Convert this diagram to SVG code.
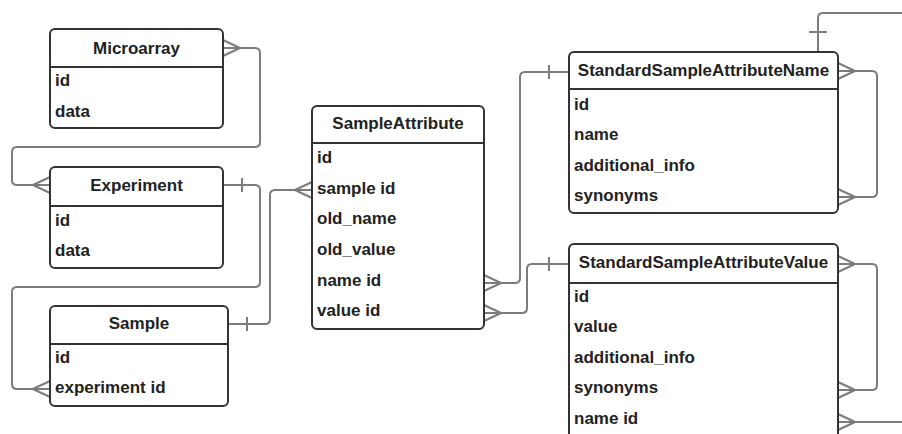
<svg xmlns="http://www.w3.org/2000/svg" xmlns:xlink="http://www.w3.org/1999/xlink" width="902" height="434" viewBox="0 0 902 434">
<style>
.box{fill:#fff;stroke:#333;stroke-width:2}
.div{stroke:#333;stroke-width:2}
.con{fill:none;stroke:#7c7c7c;stroke-width:2;stroke-linejoin:round}
.title{font-family:"Liberation Sans",Arial,sans-serif;font-weight:bold;font-size:17px;fill:#222;text-anchor:middle}
.field{font-family:"Liberation Sans",Arial,sans-serif;font-weight:bold;font-size:17px;fill:#222}
</style>
<defs>
<path id="crow" class="con" d="M0,-8 L17,0 L0,8 M0,0 H17"/>
<path id="tick" class="con" d="M0,-7 V7"/>
</defs>
<rect width="902" height="434" fill="#fff"/>
<g id="connectors">
<path class="con" d="M240,48 H255 Q260,48 260,53 V142 Q260,147 255,147 H17 Q12,147 12,152 V180 Q12,185 17,185 H33"/>
<use href="#crow" transform="translate(223,48)"/>
<use href="#crow" transform="translate(50,185) scale(-1,1)"/>
<path class="con" d="M223,185 H255 Q260,185 260,190 V282 Q260,287 255,287 H17 Q12,287 12,292 V384 Q12,389 17,389 H33"/>
<use href="#tick" transform="translate(242,185)"/>
<use href="#crow" transform="translate(50,389) scale(-1,1)"/>
<path class="con" d="M228,324 H265 Q270,324 270,319 V195 Q270,190 275,190 H295"/>
<use href="#tick" transform="translate(247,324)"/>
<use href="#crow" transform="translate(312,190) scale(-1,1)"/>
<path class="con" d="M501,283 H515 Q520,283 520,278 V77 Q520,72 525,72 H569"/>
<use href="#crow" transform="translate(484,283)"/>
<use href="#tick" transform="translate(549,72)"/>
<path class="con" d="M501,313 H522 Q527,313 527,308 V269 Q527,264 532,264 H569"/>
<use href="#crow" transform="translate(484,313)"/>
<use href="#tick" transform="translate(549,264)"/>
<path class="con" d="M855,71 H872 Q877,71 877,76 V192 Q877,197 872,197 H855"/>
<use href="#crow" transform="translate(838,71)"/>
<use href="#crow" transform="translate(838,197)"/>
<path class="con" d="M855,264 H872 Q877,264 877,269 V385 Q877,390 872,390 H855"/>
<use href="#crow" transform="translate(838,264)"/>
<use href="#crow" transform="translate(838,390)"/>
<path class="con" d="M855,422 H902"/>
<use href="#crow" transform="translate(838,422)"/>
<path class="con" d="M818,52 V18 Q818,13 823,13 H902"/>
<path class="con" d="M809,32 H827"/>
</g>
<g id="Microarray">
<rect class="box" x="50" y="29" width="173" height="99" rx="5"/>
<line class="div" x1="50" y1="67" x2="223" y2="67"/>
<text class="title" x="136.5" y="54">Microarray</text>
<text class="field" x="55" y="86">id</text>
<text class="field" x="55" y="117">data</text>
</g>
<g id="Experiment">
<rect class="box" x="50" y="167" width="173" height="101" rx="5"/>
<line class="div" x1="50" y1="206" x2="223" y2="206"/>
<text class="title" x="136.5" y="191">Experiment</text>
<text class="field" x="55" y="226">id</text>
<text class="field" x="55" y="256">data</text>
</g>
<g id="Sample">
<rect class="box" x="50" y="306" width="178" height="100" rx="5"/>
<line class="div" x1="50" y1="344" x2="228" y2="344"/>
<text class="title" x="139" y="329">Sample</text>
<text class="field" x="55" y="363">id</text>
<text class="field" x="55" y="393">experiment id</text>
</g>
<g id="SampleAttribute">
<rect class="box" x="312" y="106" width="172" height="223" rx="5"/>
<line class="div" x1="312" y1="143" x2="484" y2="143"/>
<text class="title" x="398" y="129">SampleAttribute</text>
<text class="field" x="317" y="163">id</text>
<text class="field" x="317" y="194">sample id</text>
<text class="field" x="317" y="224">old_name</text>
<text class="field" x="317" y="255">old_value</text>
<text class="field" x="317" y="286">name id</text>
<text class="field" x="317" y="316">value id</text>
</g>
<g id="StandardSampleAttributeName">
<rect class="box" x="569" y="52" width="269" height="161" rx="5"/>
<line class="div" x1="569" y1="89" x2="838" y2="89"/>
<text class="title" x="703.5" y="76">StandardSampleAttributeName</text>
<text class="field" x="574" y="110">id</text>
<text class="field" x="574" y="140">name</text>
<text class="field" x="574" y="171">additional_info</text>
<text class="field" x="574" y="201">synonyms</text>
</g>
<g id="StandardSampleAttributeValue">
<rect class="box" x="569" y="244" width="269" height="210" rx="5"/>
<line class="div" x1="569" y1="283" x2="838" y2="283"/>
<text class="title" x="703.5" y="268">StandardSampleAttributeValue</text>
<text class="field" x="574" y="302">id</text>
<text class="field" x="574" y="332">value</text>
<text class="field" x="574" y="363">additional_info</text>
<text class="field" x="574" y="393">synonyms</text>
<text class="field" x="574" y="424">name id</text>
</g>
</svg>
